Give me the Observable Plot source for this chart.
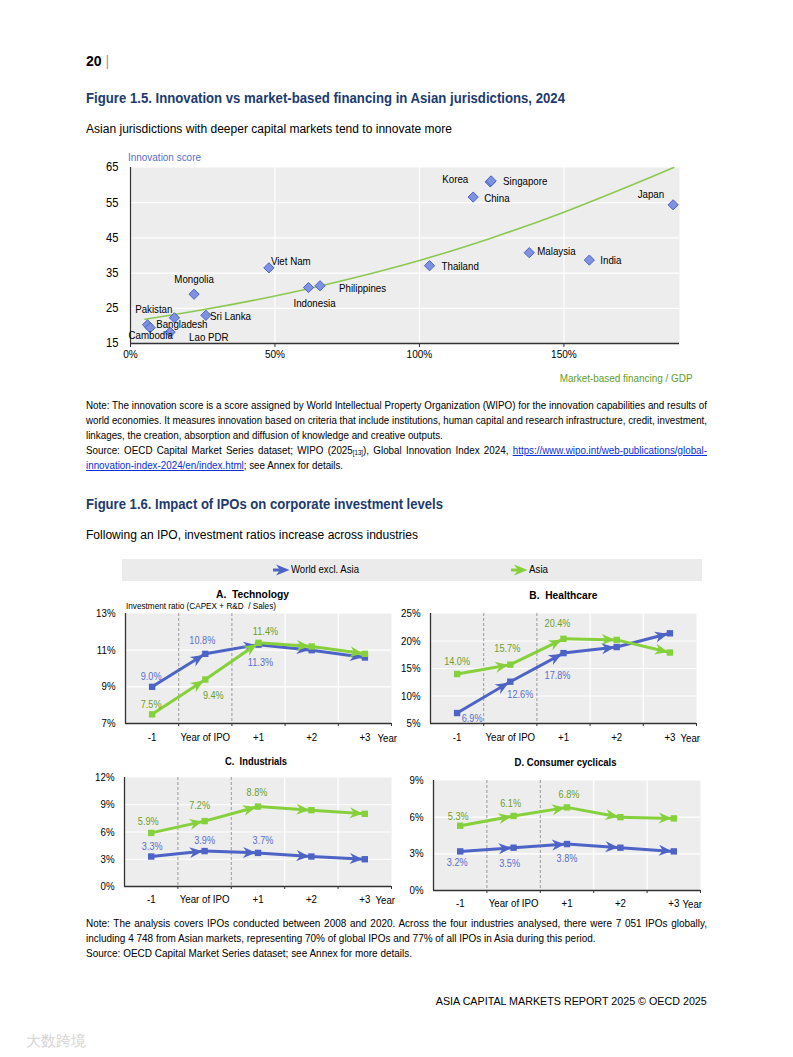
<!DOCTYPE html>
<html>
<head>
<meta charset="utf-8">
<script src="https://cdn.jsdelivr.net/npm/d3@7"></script>
<script src="https://cdn.jsdelivr.net/npm/@observablehq/plot@0.6"></script>
<style>
  html, body { margin: 0; padding: 0; background: #fff; }
  #page { position: relative; width: 793px; height: 1057px; overflow: hidden; background: #fff;
    font-family: "Liberation Sans", Arial, sans-serif; color: #000; }
  .t { position: absolute; white-space: nowrap; }
  .t > span { display: inline-block; white-space: nowrap; }
  .chart { position: absolute; }
  .line { position: absolute; left: 86px; font-size: 10.4px; line-height: 14px; transform-origin: 0 50%; }
  .line.just { text-align: justify; text-align-last: justify; white-space: normal; }
  .line.plain { white-space: nowrap; }
  .measure { position: absolute; visibility: hidden; white-space: nowrap; font-size: 10.4px; }
  a { color: #0b2fd8; text-decoration: underline; }
  sub { font-size: 6.5px; vertical-align: -1px; }
</style>
</head>
<body>
<div id="page"></div>
<script>
// ---------------- DATA: Figure 1.5 ----------------
const countries = ["Cambodia", "Bangladesh", "Pakistan", "Lao PDR", "Sri Lanka", "Mongolia", "Viet Nam", "Indonesia",
  "Philippines", "Thailand", "Malaysia", "India", "China", "Korea", "Singapore", "Japan"];
const marketFinancing = [5.9, 6.8, 15.2, 13.7, 26.1, 22.0, 47.9, 61.6, 65.6, 103.5, 138.0, 158.8, 118.6, 124.5, 124.8, 187.8];
const innovationScore = [20.3, 19.5, 22.3, 18.2, 23.0, 29.0, 36.5, 30.9, 31.4, 37.1, 40.8, 38.7, 56.6, 60.9, 61.2, 54.4];
const trendX = [5, 25, 50, 75, 100, 125, 150, 175, 188];
const trendY = [21.9, 24.6, 28.5, 33.2, 38.6, 45.0, 52.3, 60.5, 65.0];
const scatterXTicks = [0, 50, 100, 150];
const scatterYTicks = [15, 25, 35, 45, 55, 65];

// ---------------- DATA: Figure 1.6 ----------------
const periods = ["-1", "Year of IPO", "+1", "+2", "+3"];
const techWorld = [9.0, 10.8, 11.3, 11.0, 10.6];
const techAsia = [7.5, 9.4, 11.4, 11.2, 10.8];
const healthWorld = [6.9, 12.6, 17.8, 18.9, 21.4];
const healthAsia = [14.0, 15.7, 20.4, 20.2, 17.9];
const indWorld = [3.3, 3.9, 3.7, 3.3, 3.0];
const indAsia = [5.9, 7.2, 8.8, 8.4, 8.0];
const consWorld = [3.2, 3.5, 3.8, 3.5, 3.2];
const consAsia = [5.3, 6.1, 6.8, 6.0, 5.9];
const techTicks = [7, 9, 11, 13];
const healthTicks = [5, 10, 15, 20, 25];
const indTicks = [0, 3, 6, 9, 12];
const consTicks = [0, 3, 6, 9];
const seriesNames = ["World excl. Asia", "Asia"];

// ---------------- STYLE / LAYOUT ----------------
const FONT = '"Liberation Sans", Arial, sans-serif';
const BLUE = "#4d63c6", GREEN = "#86d03c", BLUE_TXT = "#5a6ecd", GREEN_TXT = "#6b9e2d";
const BG = "#ededed", AXIS = "#333";
const page = document.getElementById("page");

function text(str, x, y, opts = {}) {
  const d = document.createElement("div");
  d.className = "t";
  const fs = opts.size || 12;
  d.style.fontSize = fs + "px";
  d.style.lineHeight = (fs * 1.2) + "px";
  d.style.top = (y - fs * 0.6) + "px";
  if (opts.bold) d.style.fontWeight = "bold";
  if (opts.color) d.style.color = opts.color;
  const s = document.createElement("span");
  s.innerHTML = str;
  d.appendChild(s);
  let origin = "0 50%";
  if (opts.anchor === "end") { d.style.right = (793 - x) + "px"; d.style.textAlign = "right"; origin = "100% 50%"; }
  else if (opts.anchor === "middle") { d.style.left = (x - 200) + "px"; d.style.width = "400px"; d.style.textAlign = "center"; origin = "50% 50%"; }
  else d.style.left = x + "px";
  page.appendChild(d);
  const k = opts.w ? opts.w / s.getBoundingClientRect().width : (opts.k || 1);
  if (k !== 1) { s.style.transformOrigin = origin; s.style.transform = `scaleX(${k})`; }
  return d;
}
function para(lines, y0, step, k0) {
  const W = 621;
  lines.forEach(([html, just], i) => {
    const m = document.createElement("span");
    m.className = "measure"; m.innerHTML = html; page.appendChild(m);
    const w = m.getBoundingClientRect().width; m.remove();
    const d = document.createElement("div");
    let k = k0;
    if (just) { k = Math.min(k0, (W - 1) / w); d.className = "line just"; d.style.width = (W / k) + "px"; }
    else d.className = "line plain";
    d.style.top = (y0 + i * step - 7) + "px";
    d.style.transform = `scaleX(${k})`;
    d.innerHTML = html;
    page.appendChild(d);
  });
}
function place(svg, left, top, k) {
  const w = document.createElement("div");
  w.className = "chart"; w.style.left = left + "px"; w.style.top = top + "px";
  w.appendChild(svg); page.appendChild(w);
  // condense SVG texts to mimic the narrow face of the original
  svg.querySelectorAll("text").forEach(t => {
    if (t.querySelector("tspan")) return;
    const L = t.getComputedTextLength();
    if (L > 0) { t.setAttribute("textLength", (L * k).toFixed(2)); t.setAttribute("lengthAdjust", "spacingAndGlyphs"); }
  });
}

// header
text('20 <span style="color:#999;font-weight:normal">|</span>', 86, 61, {size: 14, bold: true});
text("Figure 1.5. Innovation vs market-based financing in Asian jurisdictions, 2024", 86, 99, {size: 14.6, bold: true, color: "#1d3b6d", w: 479});
text("Asian jurisdictions with deeper capital markets tend to innovate more", 86, 129, {size: 12.3, w: 366});
text("Innovation score", 128, 158, {size: 10.2, color: "#5670c8", w: 73});
text("Market-based financing / GDP", 693, 378, {size: 10.8, color: "#5f9e2b", anchor: "end", w: 133});

// ---------------- Scatter ----------------
const scatter = countries.map((c, i) => ({country: c, x: marketFinancing[i], y: innovationScore[i]}));
const trend = trendX.map((x, i) => ({x, y: trendY[i]}));
const scatterLabelLayout = {
  "Cambodia": ["start", -19, 11], "Bangladesh": ["start", 6, -3], "Pakistan": ["end", -2, -8],
  "Lao PDR": ["start", 19, 5], "Sri Lanka": ["start", 4, 1], "Mongolia": ["middle", 0, -15],
  "Viet Nam": ["start", 2, -6], "Indonesia": ["middle", 6, 16], "Philippines": ["start", 19, 3],
  "Thailand": ["start", 12, 1], "Malaysia": ["start", 8, -1], "India": ["start", 11, 0],
  "China": ["start", 11, 1], "Korea": ["end", -22, -2], "Singapore": ["start", 12, 1], "Japan": ["end", -9, -10]
};
const scatterPlot = Plot.plot({
  width: 620, height: 240, marginLeft: 44, marginRight: 27, marginTop: 17, marginBottom: 47,
  style: {fontFamily: FONT, fontSize: "11px", color: "#000", background: "transparent", overflow: "visible"},
  x: {domain: [0, 190], label: null},
  y: {domain: [15, 65], label: null},
  marks: [
    Plot.frame({fill: BG, stroke: "none"}),
    Plot.gridX(scatterXTicks.slice(1), {stroke: "#fff", strokeOpacity: 1, strokeWidth: 1.2}),
    Plot.gridY(scatterYTicks.slice(1, -1), {stroke: "#fff", strokeOpacity: 1, strokeWidth: 1.2}),
    Plot.axisY({ticks: scatterYTicks, tickSize: 0, tickPadding: 12, fontSize: 12.4, label: null}),
    Plot.axisX({ticks: scatterXTicks, tickSize: 4, tickPadding: 3, tickFormat: d => d + "%", fontSize: 11.2, label: null, stroke: AXIS}),
    Plot.ruleY([15], {stroke: AXIS, strokeWidth: 1.4}),
    Plot.ruleX([0], {stroke: AXIS, strokeWidth: 1.2}),
    Plot.line(trend, {x: "x", y: "y", stroke: "#8cc850", strokeWidth: 1.6, curve: "natural"}),
    Plot.dot(scatter, {x: "x", y: "y", symbol: "diamond2", r: 4.6, fill: "#7e91e3", stroke: "#4e63c5", strokeWidth: 1}),
    ...scatter.map(d => {
      const [a, dx, dy] = scatterLabelLayout[d.country];
      return Plot.text([d], {x: "x", y: "y", text: "country", textAnchor: a, dx, dy, fontSize: 10.8, fill: "#000"});
    })
  ]
});
place(scatterPlot, 86, 150, 0.9);

// notes fig 1.5
para([
  ["Note: The innovation score is a score assigned by World Intellectual Property Organization (WIPO) for the innovation capabilities and results of", true],
  ["world economies. It measures innovation based on criteria that include institutions, human capital and research infrastructure, credit, investment,", true],
  ["linkages, the creation, absorption and diffusion of knowledge and creative outputs.", false],
  ['Source: OECD Capital Market Series dataset; WIPO (2025<sub>[13]</sub>), Global Innovation Index 2024, <a>https://www.wipo.int/web-publications/global-</a>', true],
  ['<a>innovation-index-2024/en/index.html</a>; see Annex for details.', false]
], 406, 15, 0.945);

// ---------------- Figure 1.6 ----------------
text("Figure 1.6. Impact of IPOs on corporate investment levels", 86, 505, {size: 14.6, bold: true, color: "#1d3b6d", w: 357});
text("Following an IPO, investment ratios increase across industries", 86, 535, {size: 12.3, w: 332});

// legend bar
const bar = document.createElement("div");
bar.style.cssText = "position:absolute;left:122px;top:559px;width:580px;height:22px;background:#ebebeb;";
page.appendChild(bar);
function legendArrow(color, x) {
  const s = d3.create("svg").attr("width", 17).attr("height", 12)
    .style("position", "absolute").style("left", x + "px").style("top", "564px");
  s.append("path").attr("d", "M0,6 L9,6").attr("stroke", color).attr("stroke-width", 3);
  s.append("path").attr("d", "M3,0.5 L16.5,6 L3,11.5 L7,6 Z").attr("fill", color);
  page.appendChild(s.node());
}
legendArrow(BLUE, 273);
text(seriesNames[0], 291, 570, {size: 10.2, w: 68});
legendArrow(GREEN, 511);
text(seriesNames[1], 529, 570, {size: 10.2, w: 19});

// panel titles
text("A.&nbsp; Technology", 253, 594, {size: 10.6, bold: true, anchor: "middle", w: 73});
text("B.&nbsp; Healthcare", 563, 595, {size: 10.6, bold: true, anchor: "middle", w: 68});
text("C.&nbsp; Industrials", 256, 761, {size: 10.6, bold: true, anchor: "middle", w: 62});
text("D. Consumer cyclicals", 566, 762, {size: 10.6, bold: true, anchor: "middle", w: 102});
text("Investment ratio (CAPEX + R&amp;D&nbsp; / Sales)", 126, 606, {size: 8.8, w: 150});

function arrowHead(color, context) {
  const m = d3.create("svg:marker")
    .attr("viewBox", "-16 -6 16 12")
    .attr("markerWidth", 16).attr("markerHeight", 12)
    .attr("markerUnits", "userSpaceOnUse")
    .attr("refX", 0).attr("refY", 0)
    .attr("orient", "auto")
    .attr("overflow", "visible")
    .attr("fill", color).attr("stroke", "none");
  m.append("path").attr("d", "M-15,-5.5 L-2,0 L-15,5.5 L-11,0 Z");
  return m.node();
}

// label placement (dx, dy) for first three points of each series
const labelLayout = {
  tech:   {world: [[-1, -10], [-3, -13], [2, 18]], asia: [[-1, -10], [8, 16], [7, -11]]},
  health: {world: [[15, 6], [10, 13], [-6, 23]], asia: [[0, -12], [-3, -16], [-6, -15]]},
  ind:    {world: [[1, -10], [0, -10], [5, -12]], asia: [[-3, -11], [-5, -15], [-1, -14]]},
  cons:   {world: [[-3, 11], [-4, 16], [0, 15]], asia: [[-2, -9], [-3, -12], [2, -13]]}
};

function panel({world, asia, ticks, lay, width, height, mL, mR, mT, mB, xPad, yearDx}) {
  const idx = periods.map((_, i) => i);
  const bounds = [0.5, 1.5, 2.5, 3.5, 4.5];
  const seg = vals => vals.slice(0, -1).map((v, i) => ({x1: i, y1: v, x2: i + 1, y2: vals[i + 1]}));
  const pts = vals => vals.map((v, i) => ({i, v}));
  const labels = (vals, L, color) => L.map(([dx, dy], i) =>
    Plot.text([{i, v: vals[i]}], {x: "i", y: "v", text: d => d.v.toFixed(1) + "%", dx, dy, fill: color, fontSize: 10.4}));
  const dom = [ticks[0], ticks[ticks.length - 1]];
  return Plot.plot({
    width, height, marginLeft: mL, marginRight: mR, marginTop: mT, marginBottom: mB,
    style: {fontFamily: FONT, fontSize: "10.5px", color: "#000", background: "transparent", overflow: "visible"},
    x: {domain: [-0.5, 4.5], label: null},
    y: {domain: dom, label: null},
    marks: [
      Plot.frame({fill: BG, stroke: "none"}),
      Plot.gridY(ticks.slice(1, -1), {stroke: "#fff", strokeOpacity: 1, strokeWidth: 1.2}),
      Plot.ruleX([2.5, 3.5], {stroke: "#fff", strokeWidth: 1.2}),
      Plot.ruleX([0.5, 1.5], {stroke: "#9a9a9a", strokeWidth: 1, strokeDasharray: "3,2"}),
      Plot.axisY({ticks, tickSize: 0, tickPadding: 10, tickFormat: d => d + "%", fontSize: 11, label: null}),
      Plot.axisX({ticks: idx, tickSize: 0, tickPadding: xPad, tickFormat: i => periods[i], fontSize: 11, label: null}),
      Plot.axisX({ticks: bounds, tickSize: 3, text: null, label: null, stroke: AXIS}),
      Plot.ruleY([dom[0]], {stroke: AXIS, strokeWidth: 1.3}),
      Plot.ruleX([-0.5], {stroke: AXIS, strokeWidth: 1.3}),
      Plot.link(seg(world), {x1: "x1", y1: "y1", x2: "x2", y2: "y2", stroke: BLUE, strokeWidth: 3, markerEnd: arrowHead}),
      Plot.dot(pts(world), {x: "i", y: "v", symbol: "square", r: 3.6, fill: BLUE}),
      Plot.link(seg(asia), {x1: "x1", y1: "y1", x2: "x2", y2: "y2", stroke: GREEN, strokeWidth: 3, markerEnd: arrowHead}),
      Plot.dot(pts(asia), {x: "i", y: "v", symbol: "square", r: 3.6, fill: GREEN}),
      ...labels(world, lay.world, BLUE_TXT),
      ...labels(asia, lay.asia, GREEN_TXT),
      Plot.text(["Year"], {frameAnchor: "bottom-right", text: d => d, textAnchor: "start", dx: yearDx, dy: xPad + 9, fontSize: 11})
    ]
  });
}

place(panel({world: techWorld, asia: techAsia, ticks: techTicks, lay: labelLayout.tech,
  width: 320, height: 145, mL: 39, mR: 15, mT: 10, mB: 25, xPad: 9.5, yearDx: -14}), 86, 603, 0.88);
place(panel({world: healthWorld, asia: healthAsia, ticks: healthTicks, lay: labelLayout.health,
  width: 320, height: 145, mL: 38, mR: 16, mT: 10, mB: 25, xPad: 9.5, yearDx: -16}), 392, 603, 0.88);
place(panel({world: indWorld, asia: indAsia, ticks: indTicks, lay: labelLayout.ind,
  width: 320, height: 140, mL: 38, mR: 15, mT: 10, mB: 21, xPad: 8.5, yearDx: -16}), 86, 767, 0.88);
place(panel({world: consWorld, asia: consAsia, ticks: consTicks, lay: labelLayout.cons,
  width: 320, height: 140, mL: 41, mR: 12, mT: 10, mB: 20, xPad: 8.5, yearDx: -18}), 392, 770, 0.88);

// notes fig 1.6
para([
  ["Note: The analysis covers IPOs conducted between 2008 and 2020. Across the four industries analysed, there were 7 051 IPOs globally,", true],
  ["including 4 748 from Asian markets, representing 70% of global IPOs and 77% of all IPOs in Asia during this period.", false],
  ["Source: OECD Capital Market Series dataset; see Annex for more details.", false]
], 924, 15, 0.96);

text("ASIA CAPITAL MARKETS REPORT 2025 © OECD 2025", 707, 1001, {size: 10.8, anchor: "end", w: 271});
text("大数跨境", 26, 1041, {size: 15, color: "#d4d4d4"});
</script>
</body>
</html>
